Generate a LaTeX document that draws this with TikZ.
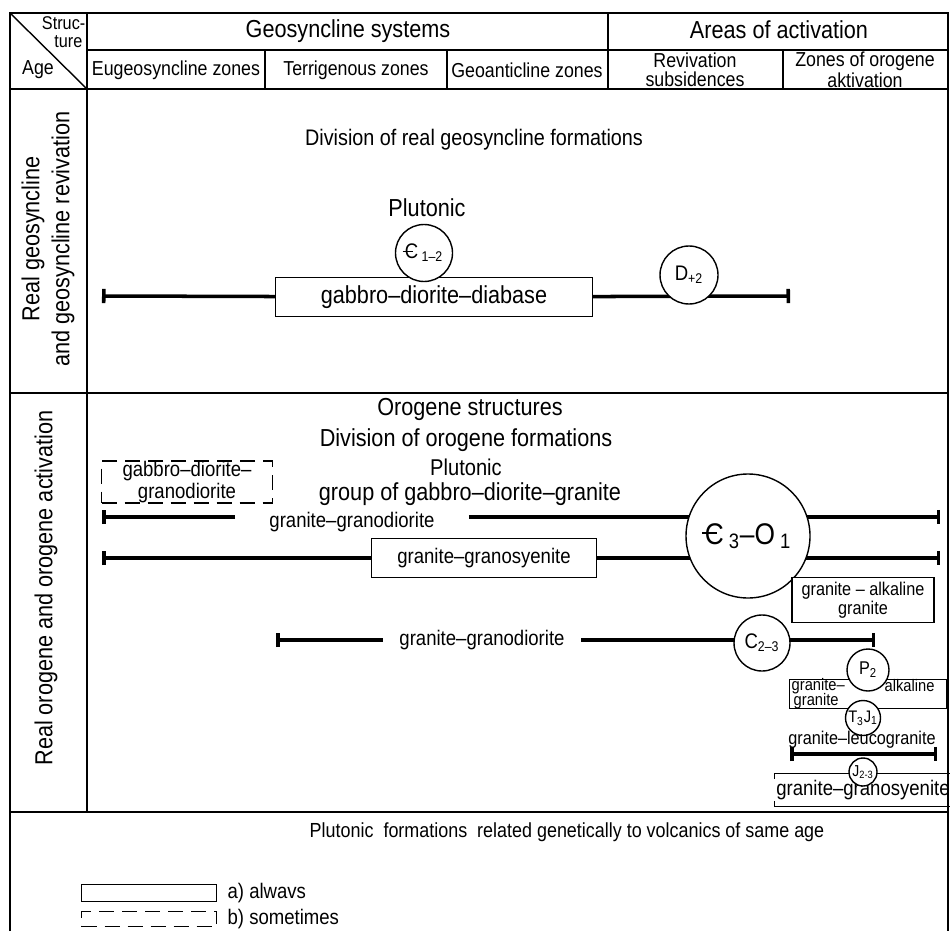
\documentclass[tikz,border=0pt]{standalone}
\usepackage{fontspec}
\setmainfont{Liberation Sans}[FakeStretch=0.88]
\usepackage{tikz}
\usetikzlibrary{arrows.meta,positioning,backgrounds}

\newcommand{\Cambr}{\makebox[0pt][l]{\kern-0.1em\rule[0.32em]{0.5em}{0.07em}}C}

\begin{document}
\begin{tikzpicture}[
        x=0.2mm, y=-0.2mm,
        every node/.style={inner sep=1pt, align=center},
        every path/.style={thick},
        big/.style={font=\fontsize{14}{17}\selectfont},
        mid/.style={font=\fontsize{12}{12.5}\selectfont},
        small/.style={font=\fontsize{10.5}{11}\selectfont},
        tiny/.style={font=\fontsize{9.5}{9.5}\selectfont},
        head/.style={font=\fontsize{11.5}{10.5}\selectfont},
        rule/.style={line width=1.1pt},
        always/.style={draw, rectangle, fill=white, inner sep=0pt},
        sometimes/.style={draw, rectangle, dash pattern=on 3mm off 1.6mm, inner sep=0pt},
        agecirc/.style={draw, circle, fill=white, inner sep=0pt},
        rangeline/.style={line width=2pt},
        endbar/.style={line width=2pt, -{Bar[width=8pt]}}
    ]

    \useasboundingbox (0,0) rectangle (950,931);

    % Table
    \draw[rule] (10,931) -- (10,13) -- (948,13) -- (948,931);
    \draw[rule] (87,50) -- (948,50);
    \draw[rule] (10,89) -- (948,89);
    \draw[rule] (10,393) -- (948,393);
    \draw[rule] (10,812) -- (948,812);
    \draw[rule] (87,13) -- (87,812);
    \draw[rule] (265,50) -- (265,89);
    \draw[rule] (447,50) -- (447,89);
    \draw[rule] (608,13) -- (608,89);
    \draw[rule] (783,50) -- (783,89);
    \draw (10,13) -- (87,89);

    % Header
    \node (struc)[head, anchor=east, inner sep=0pt, font=\fontsize{10.5}{10}\selectfont] at (86,23) {Struc-};
    \node (ture)[head, anchor=east, inner sep=0pt, font=\fontsize{10.5}{10}\selectfont] at (83,42) {ture};
    \node (age)[head] at (38,70) {Age};
    \node (geosys)[big] at (348,31) {Geosyncline systems};
    \node (areas)[big] at (779,30) {Areas of activation};
    \node (eugeo)[head] at (176,70) {Eugeosyncline zones};
    \node (terri)[head] at (356,70) {Terrigenous zones};
    \node (geoanti)[head] at (527,70) {Geoanticline zones};
    \node (reviv)[head] at (695,70) {Revivation\\subsidences};
    \node (zonoro)[head] at (865,70) {Zones of orogene\\aktivation};

    % Nodes: real geosyncline
    \node (realgeo)[big, rotate=90] at (48,239) {Real geosyncline\\and geosyncline revivation};
    \node (divreal)[big, font=\fontsize{12.8}{15}\selectfont] at (474,140) {Division of real geosyncline formations};
    \node (plut1)[big] at (427,208) {Plutonic};
    \node (gdd)[always, big, minimum width=63.4mm, minimum height=7.8mm] at (434,297) {gabbro--diorite--diabase};
    \node (cam12)[agecirc, mid, minimum size=11.4mm] at (424,253) {\Cambr\,\textsubscript{1--2}};
    \node (devon)[agecirc, mid, minimum size=11.6mm] at (689,275) {D\textsubscript{+2}};
    \coordinate (g1L) at (102,296);
    \coordinate (g1R) at (790,296);

    % Nodes: real orogene
    \node (realoro)[big, rotate=90] at (46,588) {Real orogene and orogene activation};
    \node (orostr)[big] at (470,409) {Orogene structures};
    \node (divoro)[big, inner sep=0pt] at (466,440) {Division of orogene formations};
    \node (plut2)[big, inner sep=0pt, font=\fontsize{13}{15}\selectfont] at (466,467) {Plutonic};
    \node (grpgdg)[big, inner sep=0pt] at (470,494) {group of gabbro--diorite--granite};
    \node (gdgr)[sometimes, mid, minimum width=34.2mm, minimum height=8mm] at (187,482) {gabbro--diorite--\\granodiorite};

    \node (grgr1)[mid, outer xsep=6.5mm] at (352,522) {granite--granodiorite};
    \coordinate (r1L) at (102,517);
    \coordinate (r1R) at (940,517);
    \node (ggs)[always, mid, minimum width=45mm, minimum height=7.8mm] at (484,558) {granite--granosyenite};
    \coordinate (r2L) at (102,558);
    \coordinate (r2R) at (940,558);
    \node (cam3)[agecirc, minimum size=24.8mm, font=\fontsize{17}{17}\selectfont] at (748,536) {\Cambr\,\textsubscript{3}--O\,\textsubscript{1}};
    \node (galk1)[always, small, minimum width=28.4mm, minimum height=9mm] at (863,600) {granite -- alkaline\\granite};

    \node (grgr2)[mid, outer xsep=3mm] at (482,640) {granite--granodiorite};
    \coordinate (r3L) at (276,640);
    \coordinate (r3R) at (875,640);
    \node (c23)[agecirc, mid, minimum size=11.2mm] at (762,643) {C\textsubscript{2--3}};

    \node (galk2)[draw, rectangle, inner sep=0pt, minimum width=31.4mm, minimum height=5.8mm] at (868,694) {};
    \node (perm)[agecirc, small, minimum size=8.4mm] at (868,670) {P\textsubscript{2}};
    \node (trj)[agecirc, tiny, minimum size=7mm] at (863,718) {T\textsubscript{3}J\textsubscript{1}};
    \node (galk2a)[tiny, anchor=west, inner sep=0pt] at (791,686) {granite--};
    \node (galk2b)[tiny, anchor=west, inner sep=0pt] at (884,686) {alkaline};
    \node (galk2c)[tiny, anchor=west, inner sep=0pt] at (793,701) {granite};
    \node (leuco)[small] at (862,740) {granite--leucogranite};
    \coordinate (r4L) at (790,754);
    \coordinate (r4R) at (937,754);
    \node (gsy)[mid, minimum width=29.4mm, minimum height=6.4mm] at (863,790) {granite--granosyenite};
    \node (jur)[agecirc, font=\fontsize{9}{9}\selectfont, minimum size=5.6mm] at (863,772) {J\textsubscript{2-3}};

    % Legend
    \node (plutrel)[font=\fontsize{11.6}{14}\selectfont] at (567,832) {Plutonic \ formations \ related genetically to volcanics of same age};
    \node (lega)[always, minimum width=27mm, minimum height=3.4mm] at (149,893) {};
    \node (legatxt)[mid, right=1.6mm of lega] {a) alwavs};
    \node (legb)[sometimes, minimum width=27mm, minimum height=3mm] at (149,919) {};
    \node (legbtxt)[mid, right=1.6mm of legb] {b) sometimes};

    % Edges
    \begin{scope}[on background layer]
    \draw[endbar] (gdd) -- (g1L);
    \draw[endbar] (gdd) -- (g1R);
    \draw[endbar] (grgr1.west |- r1L) -- (r1L);
    \draw[endbar] (grgr1.east |- r1R) -- (r1R);
    \draw[endbar] (ggs) -- (r2L);
    \draw[endbar] (ggs) -- (r2R);
    \draw[endbar] (grgr2.west |- r3L) -- (r3L);
    \draw[endbar] (grgr2.east |- r3R) -- (r3R);
    \draw[rangeline, {Bar[width=8pt]}-{Bar[width=8pt]}] (r4L) -- (r4R);
    \draw[thin] ([yshift=-3pt]gsy.north west) -- (gsy.north west) -- (gsy.north east) -- ([yshift=-3pt]gsy.north east);
    \draw[thin] ([yshift=3pt]gsy.south west) -- (gsy.south west) -- (gsy.south east) -- ([yshift=3pt]gsy.south east);
    \end{scope}

\end{tikzpicture}
\end{document}
